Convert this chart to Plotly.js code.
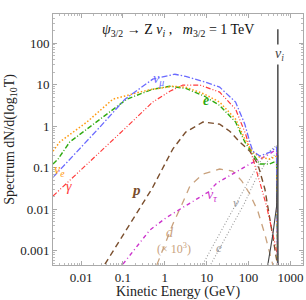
<!DOCTYPE html>
<html><head><meta charset="utf-8">
<script src="https://cdn.plot.ly/plotly-3.0.1.min.js"></script>
<style>html,body{margin:0;padding:0;background:#fff}#chart{width:306px;height:300px}</style>
</head><body><div id="chart"></div>
<script>
// Kinetic energy (GeV) and spectrum dN/d(log10 T)
const numuT = [0.00214,0.00708,0.0282,0.112,0.513,1.74,3.16,8.13,20.4,49,81.3,107,126,186,316,468,500];
const numuY = [0.0589,0.214,0.955,4.47,13.5,17.8,15.8,12,8.71,3.8,1.12,0.417,0.251,0.191,0.234,0.316,0.0001];
const nueT = [0.00214,0.00309,0.0138,0.0575,0.251,0.513,1.55,3.16,8.91,20.4,49,81.3,120,186,316,468,500];
const nueY = [0.251,0.417,1.26,4.47,6.61,7.76,9.12,8.71,5.89,3.8,1.48,0.49,0.251,0.178,0.162,0.191,0.0001];
const eT = [0.00214,0.00282,0.00537,0.0282,0.123,0.513,1.32,3.16,8.91,20.4,49,81.3,120,186,316,468,500];
const eY = [0.123,0.162,0.417,1.48,4.47,7.76,9.12,8.13,5.25,3.16,1.26,0.417,0.24,0.123,0.123,0.145,0.0001];
const gamT = [0.00214,0.00457,0.0138,0.024,0.0851,0.513,1.32,2.69,6.92,20.4,49,85.1,126,186,269,380,500];
const gamY = [0.0209,0.0427,0.123,0.2,0.676,3.8,6.92,9.77,9.77,6.61,2.57,0.646,0.178,0.0447,0.012,0.00229,0.00074];
const pT = [0.0372,0.49,1.55,3.16,8.13,20.4,35.5,61.7,107,166,245,355,447,500];
const pY = [0.00048,0.0309,0.282,0.724,1.26,1.12,0.759,0.417,0.251,0.123,0.0309,0.00282,0.00083,0.00041];
const nutauT = [0.1,0.437,1.12,3.16,10.7,17.4,52.5,107,186,316,468,500];
const nutauY = [0.00048,0.00316,0.00646,0.012,0.0257,0.0427,0.0832,0.123,0.162,0.214,0.282,0.0001];
const dT = [0.646,1,1.55,2.57,3.98,8.13,20.4,41.7,69.2,107,166,245,316,380];
const dY = [0.00046,0.00145,0.00437,0.0132,0.0363,0.0708,0.0933,0.0832,0.0479,0.0234,0.0091,0.00251,0.00093,0.00046];
const nuGT = [8.13,20.4,49,107,209,355,468,500];
const nuGY = [0.00048,0.00251,0.0132,0.0537,0.162,0.282,0.347,0.0001];
const eGT = [12.6,31.6,77.6,141,245,380,468,500];
const eGY = [0.00048,0.00251,0.0132,0.0479,0.123,0.191,0.214,0.0001];
const nuiContT = [288,380,468,500];
const nuiContY = [0.00046,0.0025,0.012,0.2];
const nuiLineT = [500,500];
const nuiLineY = [0.0004,215];
const xTickVals = [0.01,0.1,1,10,100,1000];
const xTickText = ["0.01","0.1","1","10","100","1000"];
const yTickVals = [0.001,0.01,0.1,1,10,100];
const yTickText = ["0.001","0.01","0.1","1","10","100"];

function tr(x,y,color,dash,w){return {x:x,y:y,type:'scatter',mode:'lines',line:{color:color,dash:dash,width:w||1.3},hoverinfo:'skip'};}
const data = [
  tr(dT,dY,'#c9a27e','7px,6px',1.3),
  tr(nuGT,nuGY,'#9a9a9a','1px,2px',1.1),
  tr(eGT,eGY,'#9a9a9a','1px,2px',1.1),
  tr(pT,pY,'#7a4e2d','6px,4px',1.4),
  tr(nutauT,nutauY,'#cc33cc','4px,3px,1px,3px',1.4),
  tr(gamT,gamY,'#ff3b3b','5px,2px,1px,2px,1px,2px',1.2),
  tr(eT,eY,'#2faa10','5px,2px,1px,2px',1.4),
  tr(nueT,nueY,'#ff9a10','1.5px,2px',1.5),
  tr(numuT,numuY,'#6a6aff','6px,2px,1.5px,2px',1.3),
  tr(nuiContT,nuiContY,'#444444','solid',1.1),
  tr(nuiLineT,nuiLineY,'#555555','solid',1.6)
];
const F = 'Liberation Serif, Times New Roman, serif';
function px(x){return (x-53)/250;}
function py(y){return (265-y)/251;}
function ann(x,y,text,color,size,extra){return Object.assign({xref:'paper',yref:'paper',x:px(x),y:py(y),text:text,showarrow:false,font:{family:F,size:size||13,color:color},xanchor:'center',yanchor:'middle'},extra||{});}
const annotations = [
  ann(178,30,'<i>ψ</i><sub>3/2</sub> → Z <i>ν<sub>i</sub></i> ,   <i>m</i><sub>3/2</sub> = 1 TeV','#111',14),
  ann(158,79,'<i>ν<sub>μ</sub></i>','#6a6aff',14),
  ann(59,170,'<i>ν<sub>e</sub></i>','#ff9a10',14),
  ann(69,186,'<i>γ</i>','#ff3b3b',14),
  ann(206,100,'<b><i>e</i></b>','#2faa10',14),
  ann(136,190,'<b><i>p</i></b>','#7a4e2d',15),
  ann(212,195,'<i>ν<sub>τ</sub></i>','#cc33cc',14),
  ann(170,232,'<i>d</i>','#c9a27e',14),
  ann(174,248,'(× 10<sup>3</sup>)','#c9a27e',12),
  ann(236,202,'<i>ν</i>','#9a9a9a',13),
  ann(219,247,'<i>e</i>','#9a9a9a',13),
  ann(279,55,'<i>ν<sub>i</sub></i>','#444',14,{bgcolor:'#fff'})
];
const axBase = {type:'log',showgrid:false,zeroline:false,showline:true,linecolor:'#aaaaaa',linewidth:1,mirror:'ticks',ticks:'inside',ticklen:4,tickcolor:'#aaaaaa',tickfont:{family:F,size:13,color:'#222'},minor:{ticks:'inside',ticklen:2,tickcolor:'#bbbbbb',dtick:'D1',showgrid:false}};
const layout = {
  width:306,height:300,margin:{l:53,r:3,t:14,b:35},
  paper_bgcolor:'#fff',plot_bgcolor:'#fff',showlegend:false,
  xaxis:Object.assign({},axBase,{range:[-2.67,3.3],tickvals:xTickVals,ticktext:xTickText,title:{text:'Kinetic Energy (GeV)',font:{family:F,size:14,color:'#222'},standoff:4}}),
  yaxis:Object.assign({},axBase,{range:[-3.34,2.7],tickvals:yTickVals,ticktext:yTickText,title:{text:'Spectrum dN/d(log<sub>10</sub>T)',font:{family:F,size:14,color:'#222'},standoff:2}}),
  annotations:annotations
};
Plotly.newPlot('chart',data,layout,{staticPlot:true,displayModeBar:false});
</script></body></html>
